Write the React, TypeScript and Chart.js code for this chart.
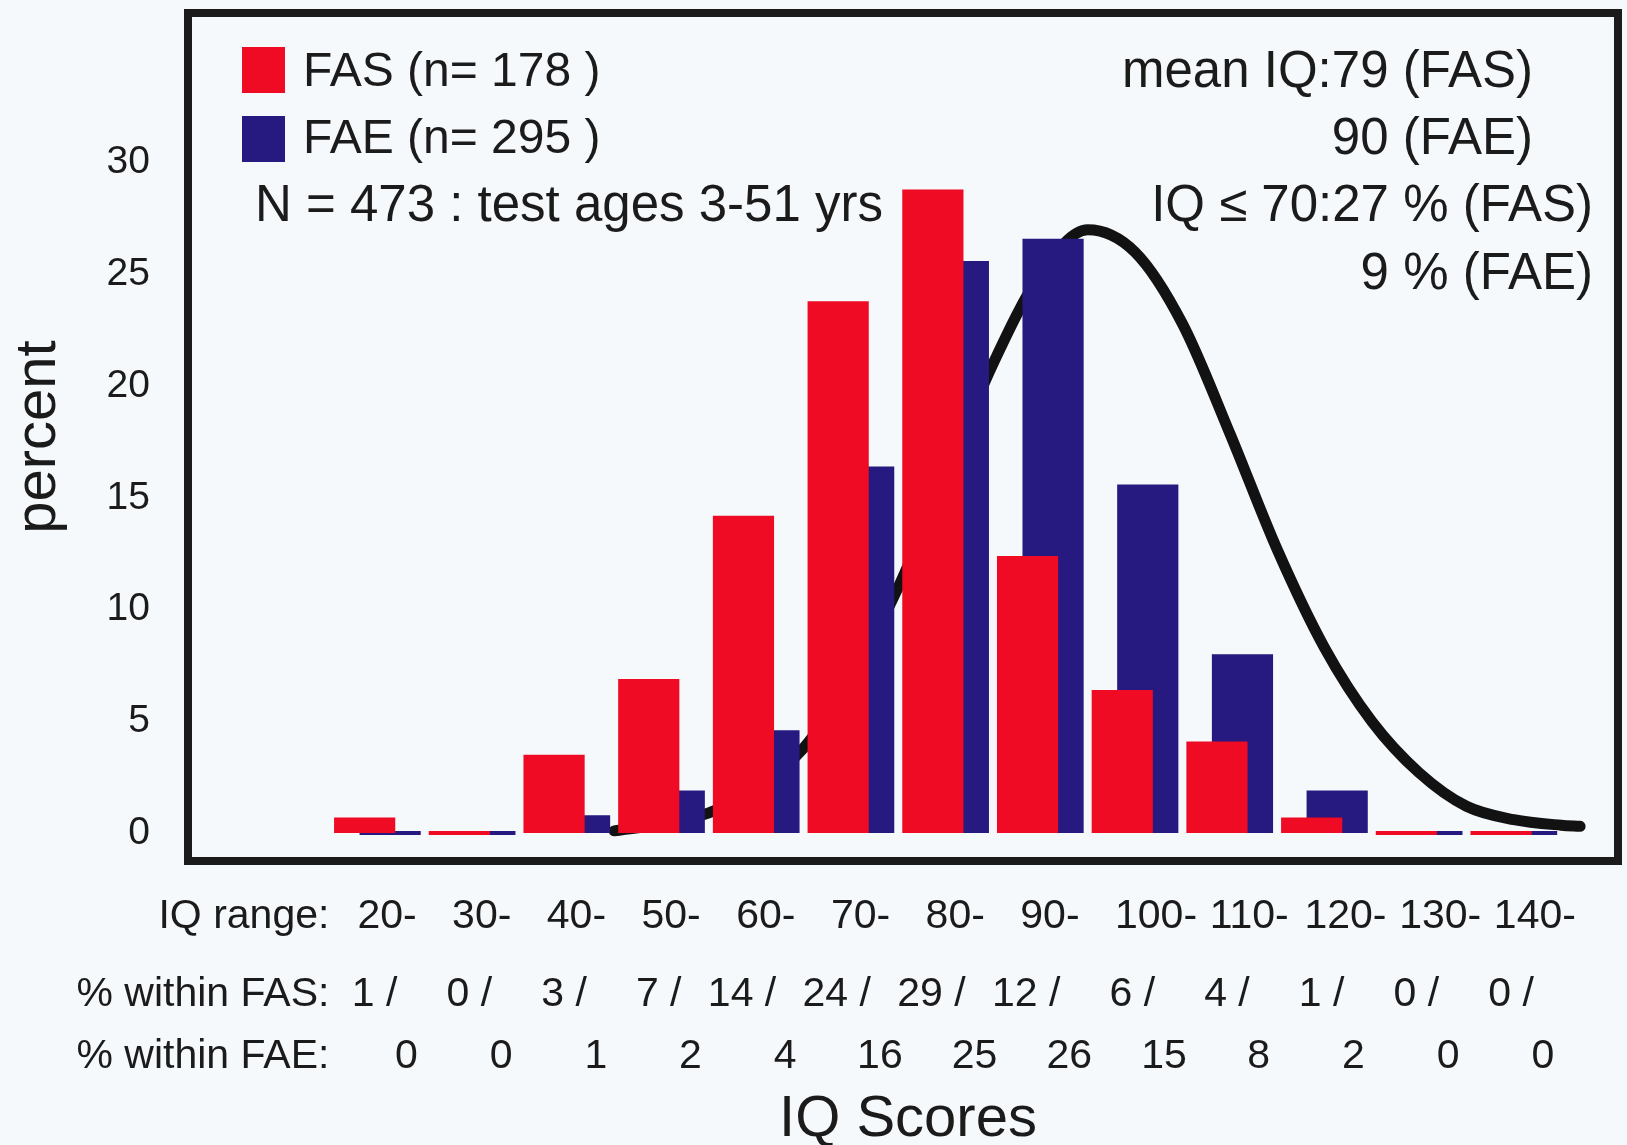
import React, { useEffect, useRef } from "react";
import { Chart, registerables } from "chart.js";

Chart.register(...registerables);

// ---------- data ----------
const iqRangeLabels = ["20-", "30-", "40-", "50-", "60-", "70-", "80-", "90-", "100-", "110-", "120-", "130-", "140-"];
const binMidpoints = [25, 35, 45, 55, 65, 75, 85, 95, 105, 115, 125, 135, 145];
// bar heights (percent)
const fasPercent = [0.7, 0, 3.5, 6.9, 14.2, 23.8, 28.8, 12.4, 6.4, 4.1, 0.7, 0, 0];
const faePercent = [0, 0, 0.8, 1.9, 4.6, 16.4, 25.6, 26.6, 15.6, 8.0, 1.9, 0, 0];
// table rows printed under the chart
const fasTableLabels = ["1", "0", "3", "7", "14", "24", "29", "12", "6", "4", "1", "0", "0"];
const faeTableLabels = ["0", "0", "1", "2", "4", "16", "25", "26", "15", "8", "2", "0", "0"];
// reference curve
const curveIQ = [50, 55, 60, 65, 70, 75, 80, 85, 90, 95, 100, 105, 110, 115, 120, 125, 130, 135, 140, 145, 150, 152];
const curvePercent = [0.1, 0.4, 0.9, 2.0, 3.8, 6.9, 11.0, 16.0, 21.0, 25.0, 27.0, 26.0, 22.8, 17.9, 12.7, 8.3, 5.0, 2.7, 1.2, 0.6, 0.35, 0.3];
const yTickValues = [0, 5, 10, 15, 20, 25, 30];

const seriesLabels = ["FAS (n= 178 )", "FAE (n= 295 )"];
const infoLine = "N = 473 : test ages 3-51 yrs";
const rightNotes = ["mean IQ:79 (FAS)", "90 (FAE)", "IQ \u2264 70:27 % (FAS)", "9 % (FAE)"];

// ---------- style ----------
const FAMILY = "'Liberation Sans', Arial, Helvetica, sans-serif";
const RED = "#ee0b23";
const BLUE = "#26197f";
const INK = "#1b1b1b";
const BG = "#f6f9fc";

const overlayPlugin = {
  id: "fasOverlay",
  afterDatasetsDraw(chart: any) {
    const { ctx, chartArea: a, scales } = chart;
    const xs = scales.x;
    ctx.save();
    // frame
    ctx.lineWidth = 8;
    ctx.strokeStyle = INK;
    ctx.strokeRect(a.left, a.top, a.right - a.left, a.bottom - a.top);

    // legend
    const ds = chart.data.datasets;
    ctx.textBaseline = "middle";
    ctx.textAlign = "left";
    for (let k = 0; k < 2; k++) {
      ctx.fillStyle = ds[k].backgroundColor;
      ctx.fillRect(a.left + 54, a.top + 34 + k * 69, 43, 46);
      ctx.fillStyle = INK;
      ctx.font = `48px ${FAMILY}`;
      ctx.fillText(ds[k].label, a.left + 115, a.top + 60 + k * 67);
    }
    ctx.font = `51px ${FAMILY}`;
    ctx.fillText(infoLine, a.left + 67, a.top + 194);

    // right notes
    ctx.textAlign = "right";
    ctx.fillText(rightNotes[0], a.right - 85, a.top + 60);
    ctx.fillText(rightNotes[1], a.right - 85, a.top + 127);
    ctx.fillText(rightNotes[2], a.right - 25, a.top + 194);
    ctx.fillText(rightNotes[3], a.right - 25, a.top + 262);

    // table under the chart
    const cx = (i: number) => xs.getPixelForValue(binMidpoints[i]);
    const y1 = a.bottom + 56;
    const y2 = a.bottom + 134;
    const y3 = a.bottom + 196;
    ctx.font = `41px ${FAMILY}`;
    ctx.textAlign = "right";
    ctx.fillText("IQ range:", cx(0) - 48, y1);
    ctx.fillText("% within FAS:", cx(0) - 48, y2);
    ctx.fillText("% within FAE:", cx(0) - 48, y3);
    ctx.textAlign = "left";
    iqRangeLabels.forEach((t, i) => ctx.fillText(t, cx(i) - 20, y1));
    ctx.textAlign = "right";
    fasTableLabels.forEach((t, i) => ctx.fillText(t + " /", cx(i) + 20, y2));
    ctx.textAlign = "center";
    faeTableLabels.forEach((t, i) => ctx.fillText(t, cx(i) + 29, y3));

    // x title
    ctx.font = `58px ${FAMILY}`;
    ctx.textAlign = "center";
    ctx.fillText("IQ Scores", (a.left + a.right) / 2 + 5, a.bottom + 259);
    ctx.restore();
  },
};

export default function App() {
  const canvasRef = useRef<HTMLCanvasElement | null>(null);

  useEffect(() => {
    const canvas = canvasRef.current;
    if (!canvas) return;
    const chart = new Chart(canvas, {
      type: "bar",
      data: {
        datasets: [
          {
            type: "bar",
            label: seriesLabels[0],
            data: binMidpoints.map((x, i) => ({ x, y: fasPercent[i] })),
            backgroundColor: RED,
            borderWidth: 0,
            order: 1,
            categoryPercentage: 0.5385,
            barPercentage: 2.4,
            minBarLength: 4,
          },
          {
            type: "bar",
            label: seriesLabels[1],
            data: binMidpoints.map((x, i) => ({ x, y: faePercent[i] })),
            backgroundColor: BLUE,
            borderWidth: 0,
            order: 2,
            categoryPercentage: 0.5385,
            barPercentage: 2.4,
            minBarLength: 4,
          },
          {
            type: "line",
            label: "normal curve",
            data: curveIQ.map((x, i) => ({ x, y: curvePercent[i] })),
            borderColor: "#121212",
            borderWidth: 11,
            pointRadius: 0,
            fill: false,
            cubicInterpolationMode: "monotone",
            borderCapStyle: "round",
            borderJoinStyle: "round",
            order: 3,
          } as any,
        ],
      },
      options: {
        responsive: false,
        animation: false,
        layout: { padding: { left: 0, top: 13, right: 9, bottom: 284 } },
        plugins: { legend: { display: false }, tooltip: { enabled: false } },
        scales: {
          x: {
            type: "linear",
            min: 5,
            max: 156,
            offset: false,
            display: false,
            grid: { display: false, offset: false },
            afterBuildTicks: (s: any) => {
              s.ticks = binMidpoints.map((v) => ({ value: v }));
            },
          },
          y: {
            type: "linear",
            position: "left",
            min: -1.25,
            max: 36.7,
            grid: { display: false, drawTicks: false },
            border: { display: false },
            afterBuildTicks: (s: any) => {
              s.ticks = yTickValues.map((v) => ({ value: v }));
            },
            afterFit: (s: any) => {
              s.width = 188;
              s.paddingTop = 0;
              s.paddingBottom = 0;
            },
            ticks: { padding: 38, font: { family: FAMILY, size: 39 }, color: INK },
            title: {
              display: true,
              text: "percent",
              font: { family: FAMILY, size: 58 },
              color: INK,
              padding: { top: 4, bottom: 4 },
            },
          },
        },
      } as any,
      plugins: [overlayPlugin],
    });
    return () => chart.destroy();
  }, []);

  return (
    <div style={{ position: "fixed", left: 0, top: 0, width: 1627, height: 1145, background: BG }}>
      <canvas ref={canvasRef} width={1627} height={1145} style={{ display: "block" }} />
    </div>
  );
}
